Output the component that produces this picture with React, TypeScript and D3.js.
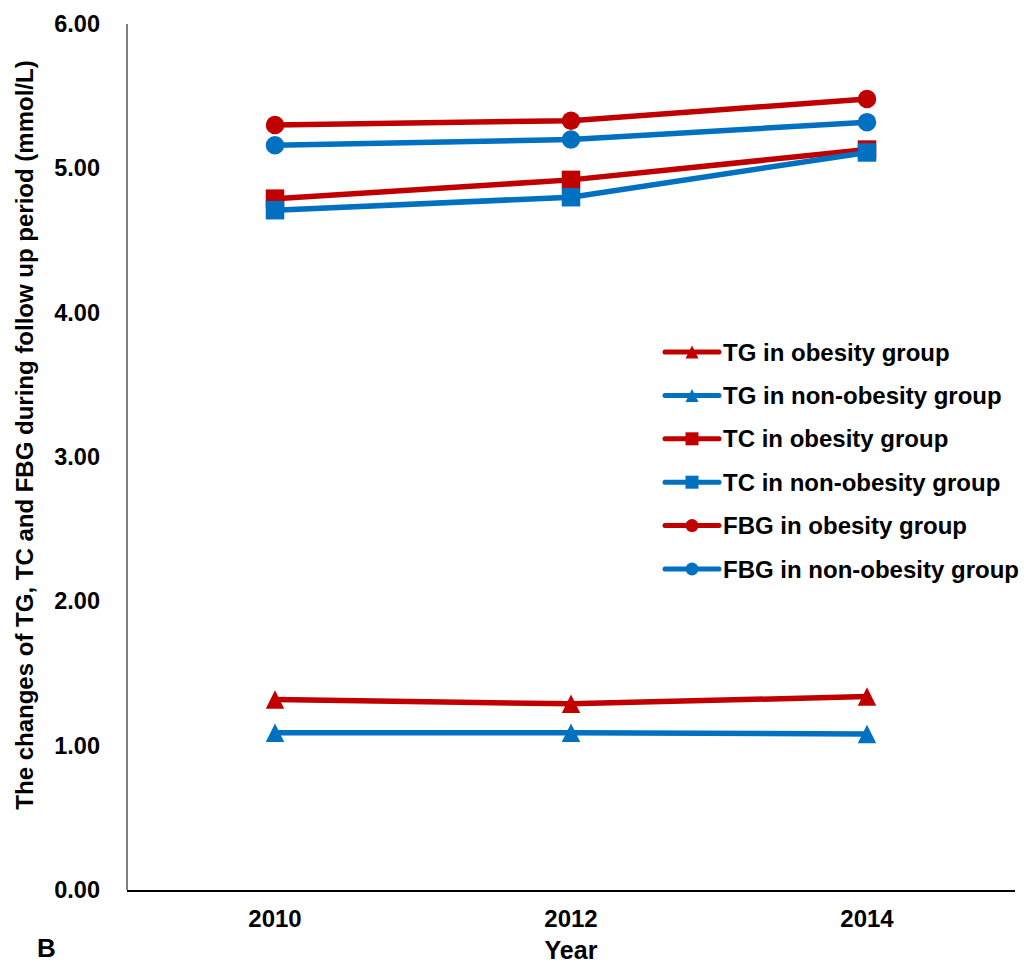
import React from "react";
import * as d3 from "d3";

const years = ["2010", "2012", "2014"];
const tgObesity = [1.32, 1.29, 1.34];
const tgNonObesity = [1.09, 1.09, 1.08];
const tcObesity = [4.79, 4.92, 5.13];
const tcNonObesity = [4.71, 4.8, 5.11];
const fbgObesity = [5.3, 5.33, 5.48];
const fbgNonObesity = [5.16, 5.2, 5.32];
const yTicks = [0, 1, 2, 3, 4, 5, 6];

const RED = "#C00000";
const BLUE = "#0070C0";

type Shape = "triangle" | "square" | "circle";

const series: { name: string; values: number[]; color: string; shape: Shape }[] = [
  { name: "TG in obesity group", values: tgObesity, color: RED, shape: "triangle" },
  { name: "TG in non-obesity group", values: tgNonObesity, color: BLUE, shape: "triangle" },
  { name: "TC in obesity group", values: tcObesity, color: RED, shape: "square" },
  { name: "TC in non-obesity group", values: tcNonObesity, color: BLUE, shape: "square" },
  { name: "FBG in obesity group", values: fbgObesity, color: RED, shape: "circle" },
  { name: "FBG in non-obesity group", values: fbgNonObesity, color: BLUE, shape: "circle" },
];

const W = 1024;
const H = 965;
const left = 127;
const right = 1015;
const top = 24;
const bottom = 890;
const font = "'Liberation Sans', Arial, sans-serif";

function Marker({ shape, x, y, size, color }: { shape: Shape; x: number; y: number; size: number; color: string }) {
  if (shape === "circle") return <circle cx={x} cy={y} r={size / 2} fill={color} />;
  if (shape === "square")
    return <rect x={x - size / 2} y={y - size / 2} width={size} height={size} fill={color} />;
  const h = size;
  const w = size;
  return (
    <path
      d={`M${x},${y - h / 2} L${x + w / 2},${y + h / 2} L${x - w / 2},${y + h / 2} Z`}
      fill={color}
    />
  );
}

export default function App() {
  const x = d3.scalePoint<string>().domain(years).range([left, right]).padding(0.5);
  const y = d3.scaleLinear().domain([0, 6]).range([bottom, top]);
  const line = d3
    .line<number>()
    .x((_d, i) => x(years[i]) as number)
    .y((d) => y(d));

  const legX = 665;
  const legY = 352;
  const legStep = 43.4;

  return (
    <svg width={W} height={H} style={{ display: "block", position: "absolute", left: 0, top: 0 }} fontFamily={font}>
      <rect width={W} height={H} fill="#fff" />
      {/* axes */}
      <line x1={left} x2={left} y1={top} y2={bottom} stroke="#808080" strokeWidth={2} />
      <line x1={left} x2={right} y1={bottom + 1} y2={bottom + 1} stroke="#000" strokeWidth={2} />
      {yTicks.map((t) => (
        <text key={t} x={100} y={y(t) + 8} textAnchor="end" fontSize={23.5} fontWeight="bold">
          {t.toFixed(2)}
        </text>
      ))}
      {years.map((yr) => (
        <text key={yr} x={x(yr)} y={927} textAnchor="middle" fontSize={24} fontWeight="bold">
          {yr}
        </text>
      ))}
      <text x={571} y={959} textAnchor="middle" fontSize={25} fontWeight="bold">
        Year
      </text>
      <text x={37} y={957} fontSize={26} fontWeight="bold">
        B
      </text>
      <text
        transform={`translate(33,435) rotate(-90)`}
        textAnchor="middle"
        fontSize={24}
        fontWeight="bold"
      >
        The changes of TG, TC and FBG during follow up period (mmol/L)
      </text>
      {/* series */}
      {series.map((s) => (
        <g key={s.name}>
          <path d={line(s.values) || ""} fill="none" stroke={s.color} strokeWidth={5.5} />
          {s.values.map((v, i) => (
            <Marker
              key={i}
              shape={s.shape}
              x={x(years[i]) as number}
              y={y(v)}
              size={18.5}
              color={s.color}
            />
          ))}
        </g>
      ))}
      {/* legend */}
      {series.map((s, i) => {
        const ly = legY + i * legStep;
        return (
          <g key={s.name}>
            <line x1={legX} x2={719} y1={ly} y2={ly} stroke={s.color} strokeWidth={5} strokeLinecap="round" />
            <Marker shape={s.shape} x={(legX + 719) / 2} y={ly} size={13} color={s.color} />
            <text x={723} y={ly + 8.5} fontSize={24} fontWeight="bold">
              {s.name}
            </text>
          </g>
        );
      })}
    </svg>
  );
}
